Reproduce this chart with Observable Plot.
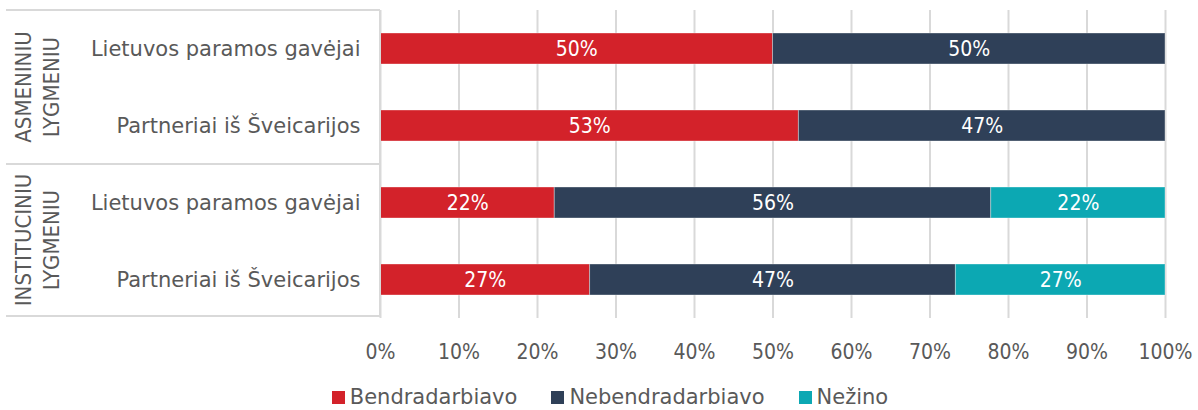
<!DOCTYPE html>
<html><head><meta charset="utf-8">
<script src="https://cdn.jsdelivr.net/npm/d3@7"></script>
<script src="https://cdn.jsdelivr.net/npm/@observablehq/plot@0.6"></script>
<style>
body{margin:0;background:#fff;font-family:"DejaVu Sans",sans-serif;width:1198px;overflow:hidden;}
#legend{display:flex;justify-content:center;gap:34px;font-size:21px;color:#595959;height:38px;align-items:center;padding-top:6px;margin-left:22px;font-family:"DejaVu Sans",sans-serif;}
#legend .item{display:flex;align-items:center;gap:5px;}
#legend .sw{width:13px;height:13px;display:inline-block;}
</style></head><body><div id="chart"></div><div id="legend"></div>
<script>
const groups = ["ASMENINIU LYGMENIU", "INSTITUCINIU LYGMENIU"];
const respondents = ["Lietuvos paramos gavėjai", "Partneriai iš Šveicarijos"];
const series = ["Bendradarbiavo", "Nebendradarbiavo", "Nežino"];
const colors = ["#D3222A", "#2F4058", "#0CA8B3"];
// rows: group 1 (two respondents), then group 2 (two respondents)
const bendradarbiavo = [50, 53.3, 22.2, 26.7];
const nebendradarbiavo = [50, 46.7, 55.6, 46.6];
const nezino = [0, 0, 22.2, 26.7];
const xTicks = [0, 10, 20, 30, 40, 50, 60, 70, 80, 90, 100];

const FONT = "'DejaVu Sans Condensed', 'DejaVu Sans', sans-serif";
const FONT_N = "'DejaVu Sans', sans-serif";
const rowKeys = [];
groups.forEach(g => respondents.forEach(r => rowKeys.push(g + "|" + r)));
const seriesValues = [bendradarbiavo, nebendradarbiavo, nezino];
const data = [];
rowKeys.forEach((row, i) => series.forEach((s, j) => data.push({row, series: s, value: seriesValues[j][i]})));
const labelData = data.filter(d => d.value > 0);

const W = 1198, H = 372;
const chart = Plot.plot({
  width: W, height: H,
  marginLeft: 380, marginRight: 33, marginTop: 10, marginBottom: 54,
  style: {fontFamily: FONT, color: "#595959", background: "#fff"},
  x: {domain: [0, 100], label: null},
  y: {domain: rowKeys, paddingInner: 0.6, paddingOuter: 0.3, align: 0.5, label: null},
  color: {domain: series, range: colors},
  marks: [
    Plot.gridX(xTicks, {stroke: "#D9D9D9", strokeOpacity: 1, strokeWidth: 2}),
    Plot.barX(data, Plot.stackX({x: "value", y: "row", fill: "series", stroke: "#ffffff", strokeOpacity: 0.35, strokeWidth: 1})),
    Plot.text(labelData, Plot.stackX({x: "value", y: "row", text: d => Math.round(d.value) + "%", fill: "white", fontSize: 21})),
    Plot.axisX(xTicks, {tickSize: 0, tickPadding: 26, tickFormat: d => d + "%", fontSize: 21, fill: "#595959", label: null}),
    Plot.axisY({tickSize: 0, tickPadding: 20, tickFormat: d => d.split("|")[1], fontSize: 21, fill: "#595959", label: null, fontFamily: FONT_N})
  ]
});
document.getElementById("chart").appendChild(chart);

// frame and group labels positioned from the y scale
const ys = chart.scale("y");
const step = ys.step, bw = ys.bandwidth;
const yTop = k => ys.apply(k) - (step - bw) / 2;
const yBot = k => ys.apply(k) + bw + (step - bw) / 2;
const svg = d3.select(chart);
const frame = svg.append("g").attr("stroke", "#D9D9D9").attr("stroke-width", 2);
const xL = 6, xR = 380;
groups.forEach((g, gi) => {
  const keys = rowKeys.filter(k => k.startsWith(g + "|"));
  const t = yTop(keys[0]), b = yBot(keys[keys.length - 1]);
  const bb = gi === groups.length - 1 ? b - 2 : b;
  frame.append("line").attr("x1", xL).attr("x2", xR).attr("y1", t).attr("y2", t);
  if (gi === groups.length - 1) frame.append("line").attr("x1", xL).attr("x2", xR).attr("y1", bb).attr("y2", bb);
  frame.append("line").attr("x1", xR).attr("x2", xR).attr("y1", t).attr("y2", bb);
  const words = g.split(" ");
  const cy = (t + bb) / 2;
  const txt = svg.append("text")
    .attr("transform", `translate(37,${cy}) rotate(-90)`)
    .attr("text-anchor", "middle")
    .attr("font-size", 22).attr("fill", "#595959")
    .attr("font-family", FONT);
  words.forEach((w, i) => txt.append("tspan").attr("x", 0).attr("y", (i - (words.length - 1) / 2) * 28 + 8).text(w));
});

const legend = document.getElementById("legend");
series.forEach((s, i) => {
  const it = document.createElement("div"); it.className = "item";
  const sw = document.createElement("span"); sw.className = "sw"; sw.style.background = colors[i];
  const tx = document.createElement("span"); tx.textContent = s;
  it.appendChild(sw); it.appendChild(tx); legend.appendChild(it);
});
</script></body></html>
